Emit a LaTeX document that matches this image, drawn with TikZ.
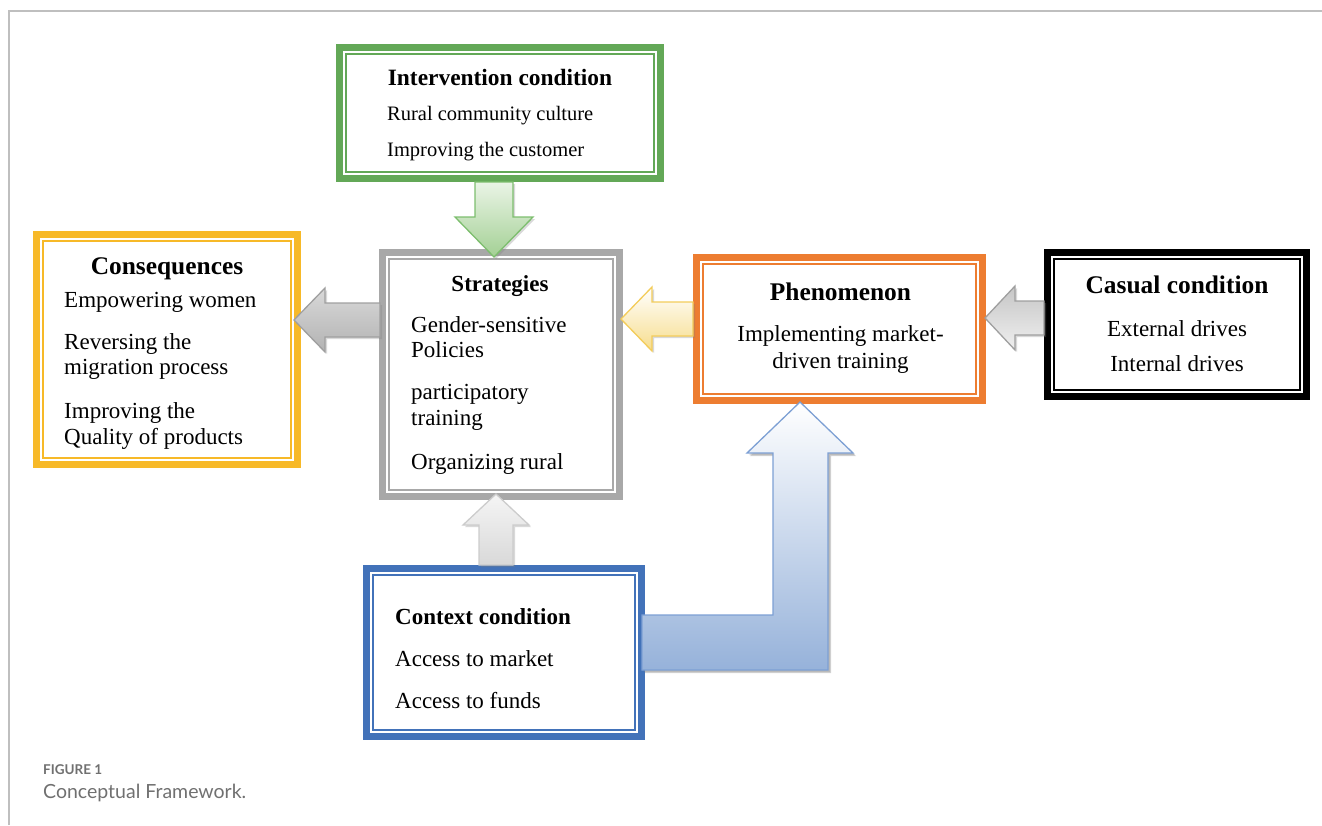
\documentclass[tikz,border=0pt]{standalone}
\usepackage{fontspec}
\setmainfont{Liberation Serif}
\newfontfamily\capfont{Lato}
\usetikzlibrary{calc,shadows}

\definecolor{igreen}{RGB}{99,168,87}
\definecolor{cyellow}{RGB}{247,185,40}
\definecolor{sgrey}{RGB}{168,168,168}
\definecolor{porange}{RGB}{237,125,49}
\definecolor{xblue}{RGB}{66,114,185}
\definecolor{capgrey}{RGB}{112,112,112}
\definecolor{greenline}{RGB}{125,190,110}
\definecolor{greenlight}{RGB}{234,244,230}
\definecolor{greendark}{RGB}{163,208,148}
\definecolor{goldline}{RGB}{243,204,90}
\definecolor{goldfill}{RGB}{247,221,140}
\definecolor{blueline}{RGB}{125,160,212}
\definecolor{bluefill}{RGB}{150,178,218}

\tikzset{
  boxframe/.style={draw=#1, line width=7pt, fill=white, inner sep=0pt},
  boxtitle/.style={anchor=base, inner sep=0pt, font=\bfseries\fontsize{#1}{30}\selectfont},
  boxtitle/.default=25.4,
  boxtext/.style={anchor=base west, inner sep=0pt, align=left, font=\fontsize{23}{25.5}\selectfont},
  flow/.style={line width=1.3pt, line join=miter,
    drop shadow={shadow xshift=2pt, shadow yshift=-2pt, opacity=0.3}},
  greenflow/.style={flow, draw=greenline, top color=greenlight, bottom color=greendark},
  greyflow/.style={flow, draw=gray!75, top color=gray!30, bottom color=gray!60},
  paleflow/.style={flow, draw=gray!40, top color=gray!8, bottom color=gray!30},
  goldflow/.style={flow, draw=goldline, top color=white, bottom color=goldfill},
  blueflow/.style={flow, draw=blueline, top color=white, bottom color=bluefill}
}

\begin{document}
\begin{tikzpicture}[x=1pt, y=-1pt]
\useasboundingbox (0,0) rectangle (1322,825);
\draw[gray!50, line width=1.5pt] (9,825) -- (9,11) -- (1322,11);

% the six boxes
\node[boxframe=igreen, minimum width=321pt, minimum height=131pt] (interv) at (500,113) {};
\node[boxframe=cyellow, minimum width=261pt, minimum height=230pt] (conseq) at (167,349.5) {};
\node[boxframe=sgrey, minimum width=237pt, minimum height=244pt] (strat) at (501,374.5) {};
\node[boxframe=porange, minimum width=286pt, minimum height=143pt] (pheno) at (839.5,329) {};
\node[boxframe=black, minimum width=259pt, minimum height=144pt] (casual) at (1177,324.5) {};
\node[boxframe=xblue, minimum width=275pt, minimum height=168pt] (context) at (504,652.5) {};

\foreach \nm/\col in {interv/igreen, conseq/cyellow, strat/sgrey, pheno/porange, casual/black, context/xblue}
  \draw[\col, line width=2pt] ([shift={(10,10)}]\nm.north west) rectangle ([shift={(-10,-10)}]\nm.south east);

% texts (base of a text block = its last line)
\node[boxtitle=23.4] (interv-t) at ([shift={(0,41)}]interv.north) {Intervention condition};
\node[boxtext, font=\fontsize{20.5}{36}\selectfont] (interv-b) at ([shift={(51,112)}]interv.north west)
  {Rural community culture\\Improving the customer};

\node[boxtitle] (conseq-t) at ([shift={(0,43)}]conseq.north) {Consequences};
\node[boxtext] (conseq-b) at ([shift={(31,213)}]conseq.north west)
  {Empowering women\\[16.5pt]Reversing the\\migration process\\[18.5pt]Improving the\\Quality of products};

\node[boxtitle=23] (strat-t) at ([shift={(-1,42)}]strat.north) {Strategies};
\node[boxtext] (strat-b) at ([shift={(32,220)}]strat.north west)
  {Gender-sensitive\\Policies\\[16.5pt]participatory\\training\\[18.5pt]Organizing rural};

\node[boxtitle] (pheno-t) at ([shift={(1,46)}]pheno.north) {Phenomenon};
\node[boxtext, anchor=base, align=center, font=\fontsize{23}{27}\selectfont] (pheno-b) at ([shift={(1,114)}]pheno.north)
  {Implementing market-\\driven training};

\node[boxtitle] (casual-t) at ([shift={(0,44)}]casual.north) {Casual condition};
\node[boxtext, anchor=base, align=center, font=\fontsize{23}{35}\selectfont] (casual-b) at ([shift={(0,122)}]casual.north)
  {External drives\\Internal drives};

\node[boxtitle=23, anchor=base west] (context-t) at ([shift={(32,59)}]context.north west) {Context condition};
\node[boxtext, font=\fontsize{23}{42}\selectfont] (context-b) at ([shift={(32,143)}]context.north west)
  {Access to market\\Access to funds};

% block arrows
\draw[greenflow] ([shift={(-25,0)}]interv.south) -- ++(0,35) -- ++(-20,0)
  -- ([shift={(-7,8)}]strat.north) -- ([shift={(33,35)}]interv.south) -- ++(-20,0)
  -- ([shift={(13,0)}]interv.south) -- cycle;
\draw[greyflow] ([shift={(1,54)}]strat.north west) -- ++(-55,0) -- ++(0,-15)
  -- ([shift={(-7,-29.5)}]conseq.east) -- ([shift={(-54,103)}]strat.north west) -- ++(0,-15)
  -- ([shift={(1,88)}]strat.north west) -- cycle;
\draw[goldflow] ([shift={(0,48)}]pheno.north west) -- ++(-41,0) -- ++(0,-15)
  -- ([shift={(-2,-55.5)}]strat.east) -- ([shift={(-41,97)}]pheno.north west) -- ++(0,-15)
  -- ([shift={(0,82)}]pheno.north west) -- cycle;
\draw[greyflow, top color=gray!45, bottom color=gray!12] ([shift={(0,52)}]casual.north west) -- ++(-29,0) -- ++(0,-15)
  -- ([shift={(-1,-11)}]pheno.east) -- ([shift={(-29,101)}]casual.north west) -- ++(0,-15)
  -- ([shift={(0,86)}]casual.north west) -- cycle;
\draw[paleflow] ([shift={(116,0)}]context.north west) -- ++(0,-40) -- ++(-16,0)
  -- ([shift={(-5,-6)}]strat.south) -- ([shift={(166,-40)}]context.north west) -- ++(-16,0)
  -- ([shift={(150,0)}]context.north west) -- cycle;
\draw[blueflow, drop shadow={shadow xshift=3pt, shadow yshift=-3pt, opacity=0.35}]
  ([shift={(-3,50)}]context.north east) -- ([shift={(128,50)}]context.north east) -- ++(0,-162) -- ++(-26,0)
  -- ([shift={(-39.5,-2)}]pheno.south) -- ++(53,51) -- ++(-25,0)
  -- ([shift={(183,105)}]context.north east) -- ([shift={(-3,105)}]context.north east) -- cycle;

% caption
\node[anchor=base west, inner sep=0pt, text=capgrey, font=\capfont\bfseries\fontsize{13.5}{16}\selectfont] (figno) at (43,774) {FIGURE 1};
\node[anchor=base west, inner sep=0pt, text=capgrey, font=\capfont\fontsize{19.5}{23}\selectfont] (figcap) at (43,798) {Conceptual Framework.};
\end{tikzpicture}
\end{document}
